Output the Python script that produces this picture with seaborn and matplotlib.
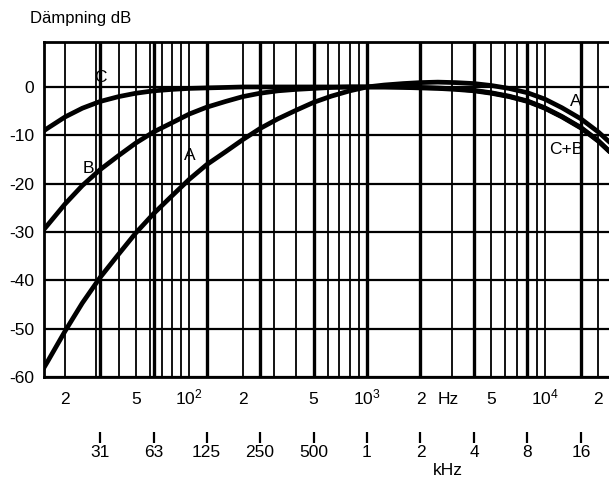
import matplotlib
matplotlib.use("Agg")
import matplotlib.pyplot as plt
import matplotlib.ticker as mticker
from matplotlib.transforms import blended_transform_factory
import numpy as np
import pandas as pd
import seaborn as sns

# ---- data ----
freq_hz = [12.5, 16, 20, 25, 31.5, 40, 50, 63, 80, 100, 125, 160, 200, 250, 315,
           400, 500, 630, 800, 1000, 1250, 1600, 2000, 2500, 3150, 4000, 5000,
           6300, 8000, 10000, 12500, 16000, 20000, 25000]
curve_a = [-63.4, -56.7, -50.5, -44.7, -39.4, -34.6, -30.2, -26.2, -22.5, -19.1,
           -16.1, -13.4, -10.9, -8.6, -6.6, -4.8, -3.2, -1.9, -0.8, 0.0, 0.4, 0.7,
           0.9, 1.0, 0.9, 0.7, 0.3, -0.3, -1.2, -2.5, -4.3, -6.6, -9.3, -12.5]
curve_b = [-33.2, -28.5, -24.2, -20.4, -17.1, -14.2, -11.6, -9.3, -7.4, -5.6,
           -4.2, -3.0, -2.0, -1.3, -0.8, -0.5, -0.3, -0.1, 0.0, 0.0, 0.0, 0.0,
           -0.1, -0.2, -0.4, -0.7, -1.2, -1.9, -2.9, -4.3, -6.1, -8.4, -11.1, -14.5]
curve_c = [-11.2, -8.5, -6.2, -4.4, -3.0, -2.0, -1.3, -0.8, -0.5, -0.3, -0.2,
           -0.1, 0.0, 0.0, 0.0, 0.0, 0.0, 0.0, 0.0, 0.0, 0.0, -0.1, -0.2, -0.3,
           -0.5, -0.8, -1.3, -2.0, -3.0, -4.4, -6.2, -8.5, -11.2, -14.5]

y_ticks = [0, -10, -20, -30, -40, -50, -60]
x_label_freqs = [20, 50, 100, 200, 500, 1000, 2000, 5000, 10000, 20000]
x_labels = ["2", "5", "$10^{2}$", "2", "5", "$10^{3}$", "2", "5", "$10^{4}$", "2"]
octave_freqs = [31.5, 63, 125, 250, 500, 1000, 2000, 4000, 8000, 16000]
octave_labels = ["31", "63", "125", "250", "500", "1", "2", "4", "8", "16"]

curve_labels = [("C", 31.4, 1.9), ("B", 26.9, -16.8), ("A", 101, -14.1),
                ("A", 15000, -3.1), ("C+B", 13200, -13.0)]

# ---- styling ----
sns.set_theme(style="white")
plt.rcParams["font.family"] = ["Liberation Sans", "DejaVu Sans"]
plt.rcParams["mathtext.fontset"] = "custom"
plt.rcParams["mathtext.rm"] = "Liberation Sans"
plt.rcParams["mathtext.default"] = "regular"

fig = plt.figure(figsize=(6.09, 4.84), dpi=100)
ax = fig.add_axes([44 / 609, 1 - 377 / 484, (612 - 44) / 609, (377 - 42) / 484])

df = pd.DataFrame({"f": freq_hz, "A": curve_a, "B": curve_b, "C": curve_c})
long = df.melt(id_vars="f", var_name="curve", value_name="dB")
for name in ["C", "B", "A"]:
    sns.lineplot(data=long[long.curve == name], x="f", y="dB", color="black",
                 lw=3.4, ax=ax, legend=False, zorder=5)

ax.set_xscale("log")
ax.set_xlim(10 ** (3 - 323 / 177.7), 10 ** (3 + 245 / 177.7))
ax.set_ylim(-60, 9.3)

# grid
ax.xaxis.set_major_locator(mticker.FixedLocator(x_label_freqs))
ax.xaxis.set_minor_locator(mticker.LogLocator(base=10, subs=np.arange(1, 10), numticks=50))
ax.xaxis.set_minor_formatter(mticker.NullFormatter())
ax.set_xticklabels(x_labels)
ax.set_yticks(y_ticks)
ax.set_yticklabels([str(v) for v in y_ticks])
ax.grid(True, which="both", axis="x", color="black", lw=1.3)
ax.grid(True, which="major", axis="y", color="black", lw=1.6)
for f in octave_freqs:
    ax.axvline(f, color="black", lw=2.4, zorder=2)

ax.tick_params(axis="x", which="both", length=0, pad=19.5, labelsize=12.5, colors="black")
ax.tick_params(axis="y", which="both", length=0, pad=7, labelsize=12.5, colors="black")
for lbl in ax.get_xticklabels():
    lbl.set_verticalalignment("baseline")
for s in ax.spines.values():
    s.set_color("black")
    s.set_linewidth(2)
ax.set_xlabel("")
ax.set_ylabel("")

# Hz label next to the "2" of 2 kHz
trans = blended_transform_factory(ax.transData, ax.transAxes)
ax.text(2850, -0.0806, "Hz", transform=trans, ha="center", va="baseline",
        fontsize=12.5, color="black")

# octave row with tick marks
sec = ax.secondary_xaxis(-0.163)
sec.set_xticks(octave_freqs)
sec.set_xticklabels(octave_labels)
sec.xaxis.set_minor_locator(mticker.NullLocator())
sec.tick_params(axis="x", direction="out", length=8, width=1.6, pad=2,
                labelsize=12.5, colors="black")
sec.spines["bottom"].set_visible(False)
ax.text(2850, -0.28, "kHz", transform=trans, ha="center", va="center",
        fontsize=12.5, color="black")

# curve labels
for txt, fx, fy in curve_labels:
    ax.text(fx, fy, txt, ha="center", va="center", fontsize=12.5, color="black",
            zorder=6)

fig.text(30 / 609, 1 - 18 / 484, "Dämpning dB", ha="left", va="center",
         fontsize=12, color="black")

fig.savefig("out.png", dpi=100)
